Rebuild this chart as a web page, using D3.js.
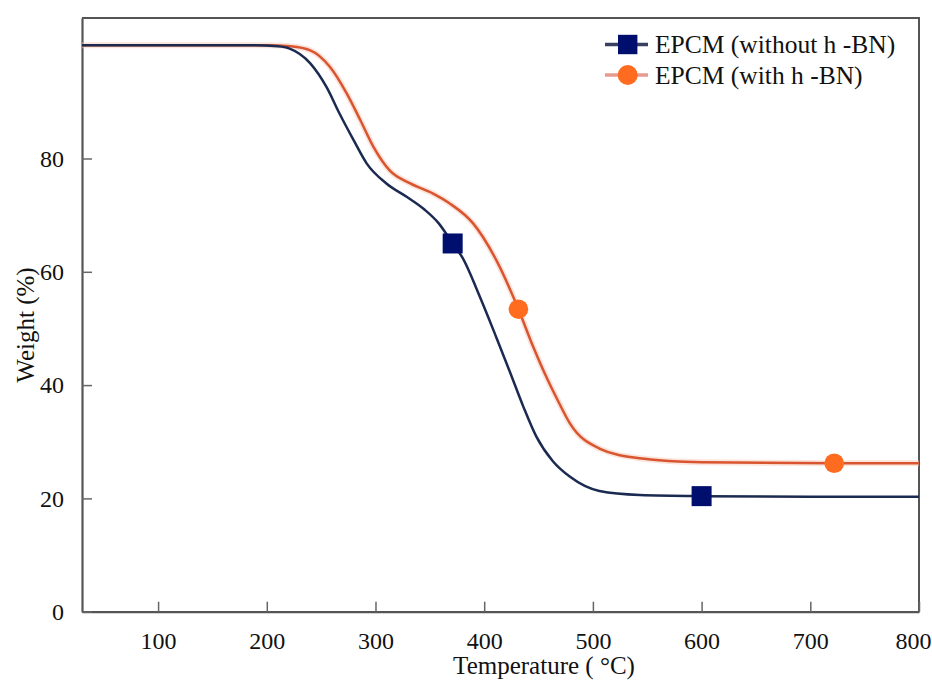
<!DOCTYPE html>
<html>
<head>
<meta charset="utf-8">
<script src="https://cdn.jsdelivr.net/npm/d3@7/dist/d3.min.js"></script>
<style>
  html, body { margin: 0; padding: 0; background: #fff; }
  svg text { font-family: "Liberation Serif", "DejaVu Serif", "Noto Serif", serif; fill: #111; }
</style>
</head>
<body>
<svg id="chart" width="932" height="680"></svg>
<script>
// Data
const seriesNames = ["EPCM (without h -BN)", "EPCM (with h -BN)"];
const withoutT = [30, 185, 210, 221, 240, 255, 267, 280, 292, 310, 329, 345, 358, 371, 380, 396, 411, 423.5, 436, 448, 463, 479, 506, 543, 600, 700, 800];
const withoutW = [100, 100, 99.8, 99.4, 96.8, 92.6, 87.9, 83.2, 79.1, 75.6, 73.2, 71.0, 68.6, 65, 62.5, 55.6, 48.5, 42.4, 36.2, 30.9, 26.6, 23.8, 21.3, 20.6, 20.4, 20.3, 20.3];
const withT = [30, 200, 222, 240, 258, 273.5, 286, 298, 313, 332, 353, 368, 390, 411, 431.5, 445, 457, 469, 479, 506, 543, 600, 722, 800];
const withW = [100, 100, 99.8, 99.1, 96.2, 91.5, 86.8, 82.1, 77.9, 75.6, 73.8, 72.1, 68.5, 62.1, 53.4, 46.8, 41.5, 36.8, 33.2, 28.8, 27.1, 26.4, 26.2, 26.2];
const markerWithoutT = [371, 600];
const markerWithoutW = [65, 20.4];
const markerWithT = [431.5, 722];
const markerWithW = [53.4, 26.2];
const xTicks = [100, 200, 300, 400, 500, 600, 700, 800];
const yTicks = [0, 20, 40, 60, 80];

(function () {
const svg = d3.select("#chart");
const mLeft = 82, mRight = 919, mTop = 18, mBottom = 611.7;

const x = d3.scaleLinear().domain([30, 800]).range([mLeft, mRight]);
const y = d3.scaleLinear().domain([0, 104.8]).range([mBottom, mTop]);

const blueLine = "#1b2a50", orangeLine = "#d9552f";
const blueMark = "#000f6e", orangeMark = "#ff6b1f";
const serif = '"Liberation Serif", "DejaVu Serif", "Noto Serif", serif';

// frame (top and right)
svg.append("path")
  .attr("d", `M${mLeft},${mTop}H${mRight}V${mBottom}`)
  .attr("fill", "none").attr("stroke", "#555").attr("stroke-width", 2);

// axes
const xAxis = d3.axisBottom(x).tickValues(xTicks).tickSizeInner(-10).tickSizeOuter(0).tickPadding(20);
const gx = svg.append("g").attr("transform", `translate(0,${mBottom})`).call(xAxis)
  .attr("font-family", serif);
gx.select(".domain").attr("stroke", "#555").attr("stroke-width", 2.2);
gx.selectAll(".tick line").attr("stroke", "#666").attr("stroke-width", 1.5);
gx.selectAll(".tick text").attr("font-size", 24).attr("fill", "#111").attr("font-family", serif)
  .attr("dx", d => d === 800 ? -6 : 0);

const yAxis = d3.axisLeft(y).tickValues(yTicks).tickSizeInner(-10).tickSizeOuter(0).tickPadding(18);
const gy = svg.append("g").attr("transform", `translate(${mLeft},0)`).call(yAxis)
  .attr("font-family", serif);
gy.select(".domain").attr("stroke", "#555").attr("stroke-width", 2.2);
gy.selectAll(".tick line").attr("stroke", "#666").attr("stroke-width", 1.5);
gy.selectAll(".tick text").attr("font-size", 24).attr("fill", "#111").attr("font-family", serif);

// axis titles
svg.append("text").attr("x", 544).attr("y", 674).attr("text-anchor", "middle")
  .attr("font-family", serif).attr("font-size", 25).text("Temperature ( °C)");
svg.append("text").attr("transform", "translate(34,325) rotate(-90)").attr("text-anchor", "middle")
  .attr("font-family", serif).attr("font-size", 25).text("Weight (%)");

// lines
const line = d3.line().x(d => x(d[0])).y(d => y(d[1])).curve(d3.curveMonotoneX);
const dWithout = withoutT.map((t, i) => [t, withoutW[i]]);
const dWith = withT.map((t, i) => [t, withW[i]]);

svg.append("path").datum(dWith).attr("d", line)
  .attr("fill", "none").attr("stroke", "#f7c9b8").attr("stroke-width", 6).attr("opacity", 0.5);
svg.append("path").datum(dWith).attr("d", line)
  .attr("fill", "none").attr("stroke", orangeLine).attr("stroke-width", 2.5);
svg.append("path").datum(dWithout).attr("d", line)
  .attr("fill", "none").attr("stroke", blueLine).attr("stroke-width", 2.5);

// markers
const sq = 20;
svg.selectAll("rect.m").data(markerWithoutT.map((t, i) => [t, markerWithoutW[i]])).enter()
  .append("rect").attr("class", "m")
  .attr("x", d => x(d[0]) - sq / 2).attr("y", d => y(d[1]) - sq / 2)
  .attr("width", sq).attr("height", sq).attr("fill", blueMark);
svg.selectAll("circle.m").data(markerWithT.map((t, i) => [t, markerWithW[i]])).enter()
  .append("circle").attr("class", "m")
  .attr("cx", d => x(d[0])).attr("cy", d => y(d[1]))
  .attr("r", 9.8).attr("fill", orangeMark);

// legend
const lg = svg.append("g");
const rows = [
  { name: seriesNames[0], ly: 44.5, line: "#3a4060", mark: "rect", color: blueMark },
  { name: seriesNames[1], ly: 75, line: "#e99a90", mark: "circle", color: orangeMark }
];
rows.forEach(r => {
  lg.append("line").attr("x1", 605).attr("x2", 648).attr("y1", r.ly).attr("y2", r.ly)
    .attr("stroke", r.line).attr("stroke-width", 3.5);
  if (r.mark === "rect") {
    lg.append("rect").attr("x", 627.7 - 9.7).attr("y", r.ly - 9.7).attr("width", 19.4).attr("height", 19.4).attr("fill", r.color);
  } else {
    lg.append("circle").attr("cx", 627.7).attr("cy", r.ly).attr("r", 10).attr("fill", r.color);
  }
  lg.append("text").attr("x", 655).attr("y", r.ly + 8.5).attr("font-family", serif)
    .attr("font-size", 25.5).text(r.name);
});
})();
</script>
</body>
</html>
